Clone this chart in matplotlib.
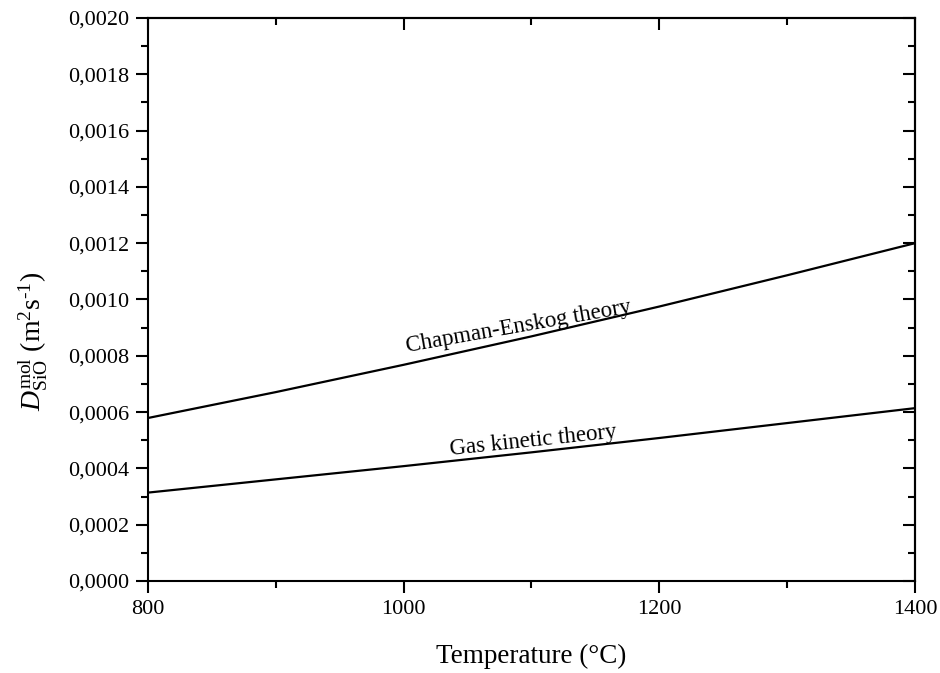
import numpy as np
import matplotlib
matplotlib.use('Agg')
import matplotlib.pyplot as plt
from matplotlib.ticker import MultipleLocator, FuncFormatter

plt.rcParams['font.family'] = ['Liberation Serif', 'DejaVu Serif']
plt.rcParams['mathtext.fontset'] = 'custom'
plt.rcParams['mathtext.rm'] = 'Liberation Serif'
plt.rcParams['mathtext.it'] = 'Liberation Serif:italic'

# data
temperature = [800, 900, 1000, 1100, 1200, 1300, 1400]
chapman_enskog = [0.000579, 0.000671, 0.000768, 0.000869, 0.000975, 0.001086, 0.001200]
gas_kinetic = [0.000314, 0.000361, 0.000408, 0.000457, 0.000508, 0.000561, 0.000614]

fig = plt.figure(figsize=(9.4, 6.73), dpi=100)
ax = fig.add_axes([0.1574, 0.1367, 0.816, 0.8366])

ax.plot(temperature, chapman_enskog, color='black', linewidth=1.6)
ax.plot(temperature, gas_kinetic, color='black', linewidth=1.6)

ax.set_xlim(800, 1400)
ax.set_ylim(0, 0.002)

ax.xaxis.set_major_locator(MultipleLocator(200))
ax.xaxis.set_minor_locator(MultipleLocator(100))
ax.yaxis.set_major_locator(MultipleLocator(0.0002))
ax.yaxis.set_minor_locator(MultipleLocator(0.0001))
ax.yaxis.set_major_formatter(FuncFormatter(lambda v, p: f'{v:.4f}'.replace('.', ',')))

for s in ax.spines.values():
    s.set_linewidth(1.5)
ax.tick_params(which='major', direction='out', length=8.5, width=1.5, labelsize=16, pad=5)
ax.tick_params(which='minor', direction='out', length=5, width=1.5)

# mirrored inward ticks on the top and right
top = ax.secondary_xaxis('top')
top.xaxis.set_major_locator(MultipleLocator(200))
top.xaxis.set_minor_locator(MultipleLocator(100))
top.tick_params(which='major', direction='in', length=8.5, width=1.5, labeltop=False)
top.tick_params(which='minor', direction='in', length=5, width=1.5)
top.spines['top'].set_linewidth(1.5)

right = ax.secondary_yaxis('right')
right.yaxis.set_major_locator(MultipleLocator(0.0002))
right.yaxis.set_minor_locator(MultipleLocator(0.0001))
right.tick_params(which='major', direction='in', length=8.5, width=1.5, labelright=False)
right.tick_params(which='minor', direction='in', length=5, width=1.5)
right.spines['right'].set_linewidth(1.5)

ax.set_xlabel('Temperature (°C)', fontsize=19.5, labelpad=18)
ax.set_ylabel(r'$D^{\rm mol}_{\rm SiO}$ (m$^{\text{2}}$s$^{\text{-1}}$)', fontsize=20)
ax.yaxis.set_label_coords(-0.128, 0.425)

ax.text(1091, 0.000884, 'Chapman-Enskog theory', fontsize=16.5, rotation=10,
        rotation_mode='anchor', ha='center', va='baseline')
ax.text(1102, 0.000477, 'Gas kinetic theory', fontsize=16.5, rotation=6,
        rotation_mode='anchor', ha='center', va='baseline')

fig.savefig('out.png', dpi=100)
